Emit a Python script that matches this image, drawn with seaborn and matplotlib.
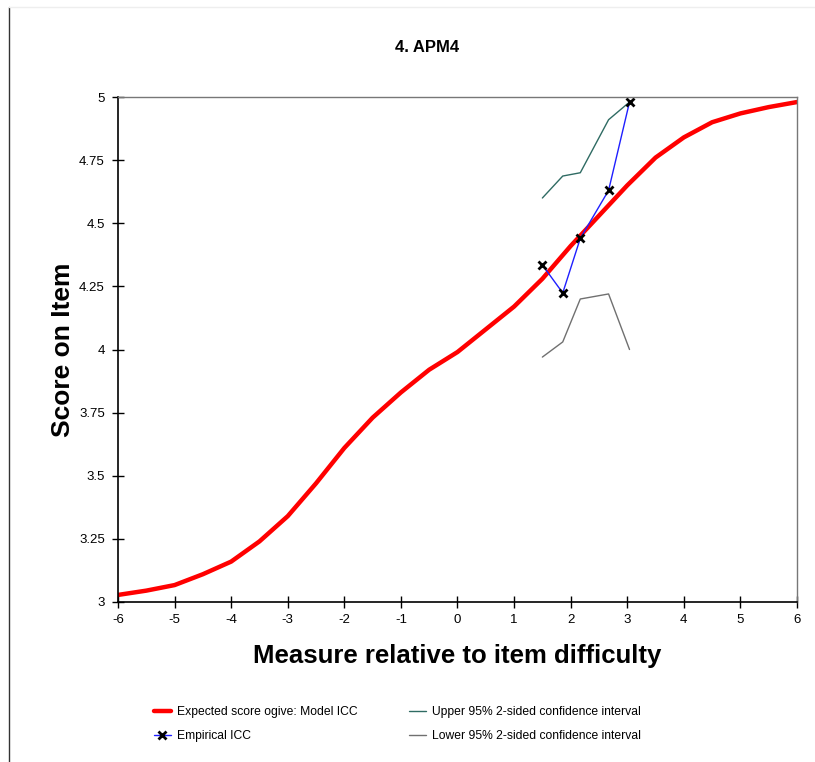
import numpy as np
import pandas as pd
import seaborn as sns
import matplotlib.pyplot as plt
from matplotlib.lines import Line2D

# model ICC (expected score ogive)
model_x = [-6, -5.5, -5, -4.5, -4, -3.5, -3, -2.5, -2, -1.5, -1, -0.5,
           0, 0.5, 1, 1.5, 2, 2.5, 3, 3.5, 4, 4.5, 5, 5.5, 6]
model_y = [3.028, 3.045, 3.067, 3.11, 3.16, 3.24, 3.34, 3.47, 3.61, 3.73, 3.83, 3.92,
           3.99, 4.08, 4.17, 4.28, 4.41, 4.53, 4.65, 4.76, 4.84, 4.90, 4.935, 4.96, 4.98]

# empirical ICC and confidence bands
emp_x = [1.50, 1.86, 2.17, 2.67, 3.04]
emp_y = [4.335, 4.224, 4.44, 4.63, 4.98]
upper_y = [4.60, 4.687, 4.70, 4.91, 4.98]
lower_y = [3.97, 4.03, 4.20, 4.22, 4.00]

sns.set_style("white")
plt.rcParams['font.family'] = ['Liberation Sans', 'DejaVu Sans']
plt.rcParams['axes.unicode_minus'] = False
plt.rcParams['text.color'] = 'black'
plt.rcParams['axes.labelcolor'] = 'black'

fig = plt.figure(figsize=(8.15, 7.62), dpi=100)
ax = fig.add_axes([118 / 815, 1 - 602 / 762, (797 - 118) / 815, (602 - 97) / 762])

model = pd.DataFrame({'x': model_x, 'y': model_y})
emp = pd.DataFrame({'x': emp_x, 'y': emp_y, 'up': upper_y, 'lo': lower_y})

sns.lineplot(data=model, x='x', y='y', ax=ax, color='#ff0000', linewidth=3.2, sort=False)
sns.lineplot(data=emp, x='x', y='up', ax=ax, color='#2f6b63', linewidth=1, sort=False)
sns.lineplot(data=emp, x='x', y='lo', ax=ax, color='#707070', linewidth=1, sort=False)
sns.lineplot(data=emp, x='x', y='y', ax=ax, color='#1f1fff', linewidth=1, sort=False,
             marker='x', markersize=6, markeredgewidth=2, markeredgecolor='black')

ax.set_xlim(-6, 6)
ax.set_ylim(3, 5)
ax.set_xticks(range(-6, 7))
ax.set_yticks(np.arange(3, 5.01, 0.25))
ax.set_yticklabels(['3', '3.25', '3.5', '3.75', '4', '4.25', '4.5', '4.75', '5'])
ax.tick_params(bottom=True, left=True, direction='inout', length=9, width=1,
               labelsize=9.5, color='black', labelcolor='black')
ax.tick_params(axis='y', pad=5)
ax.tick_params(axis='x', pad=4)

for side in ['left', 'bottom']:
    ax.spines[side].set_color('black')
    ax.spines[side].set_linewidth(1.2)
for side in ['top', 'right']:
    ax.spines[side].set_color('#777777')
    ax.spines[side].set_linewidth(1)

ax.set_xlabel('Measure relative to item difficulty', fontsize=18.5, fontweight='bold', labelpad=13)
ax.set_ylabel('Score on Item', fontsize=19, fontweight='bold', labelpad=3)
fig.text(427 / 815, 1 - 47 / 762, '4. APM4', ha='center', va='center', fontsize=12, fontweight='bold')

handles = [
    Line2D([], [], color='#ff0000', linewidth=3.2),
    Line2D([], [], color='#1f1fff', linewidth=1, marker='x', markersize=6,
           markeredgewidth=2, markeredgecolor='black'),
    Line2D([], [], color='#2f6b63', linewidth=1),
    Line2D([], [], color='#707070', linewidth=1),
]
labels = ['Expected score ogive: Model ICC', 'Empirical ICC',
          'Upper 95% 2-sided confidence interval', 'Lower 95% 2-sided confidence interval']
fig.legend(handles, labels, ncol=2, loc='center left', bbox_to_anchor=(143 / 815, 1 - 724 / 762),
           frameon=False, fontsize=8.7, handlelength=1.4, handletextpad=0.5,
           columnspacing=4.3, labelspacing=1.0)

# screenshot frame
fig.add_artist(Line2D([9 / 815, 9 / 815], [0, 1 - 7 / 762], color='#333333', linewidth=1))
fig.add_artist(Line2D([9 / 815, 1], [1 - 7 / 762, 1 - 7 / 762], color='#eeeeee', linewidth=1))

fig.savefig('out.png', dpi=100)
